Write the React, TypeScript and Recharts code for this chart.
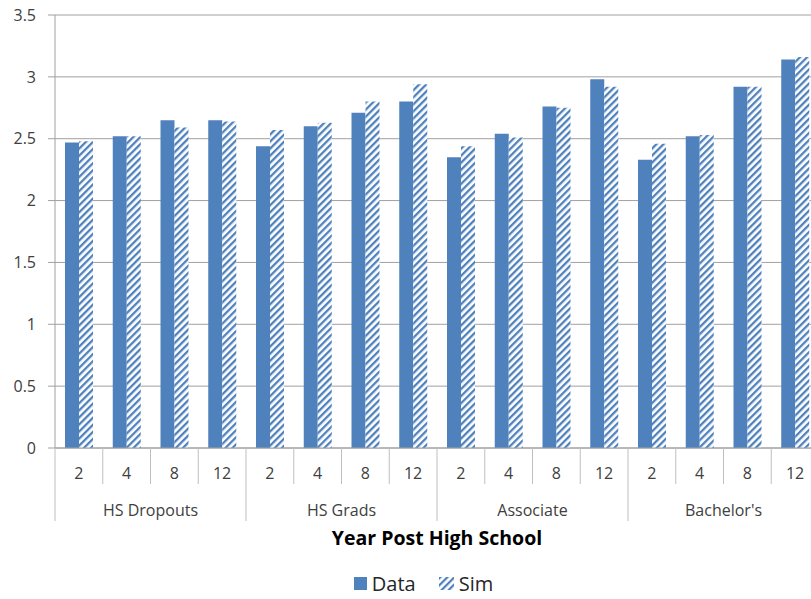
import React from "react";
import { BarChart, Bar, XAxis, YAxis, CartesianGrid, Legend } from "recharts";

const groups = ["HS Dropouts", "HS Grads", "Associate", "Bachelor's"];
const years = ["2", "4", "8", "12"];
const dataValues = [
  2.47, 2.52, 2.65, 2.65,
  2.44, 2.6, 2.71, 2.8,
  2.35, 2.54, 2.76, 2.98,
  2.33, 2.52, 2.92, 3.14,
];
const simValues = [
  2.48, 2.52, 2.59, 2.64,
  2.57, 2.63, 2.8, 2.94,
  2.44, 2.51, 2.75, 2.92,
  2.46, 2.53, 2.92, 3.16,
];
const yTicks = [0, 0.5, 1, 1.5, 2, 2.5, 3, 3.5];

const rows = groups.flatMap((g, gi) =>
  years.map((yr, yi) => ({
    key: g + "|" + yr,
    group: g,
    year: yr,
    Data: dataValues[gi * 4 + yi],
    Sim: simValues[gi * 4 + yi],
  }))
);

const BLUE = "#4F81BD";
const FONT = "'Open Sans', sans-serif";
const TEXT = "#404040";
const SEP = "#BFBFBF";

const YearTick = (props: any) => {
  const { x, y, payload, index } = props;
  const off = payload && payload.offset ? payload.offset : 23.9;
  const row = rows[index] || rows[0];
  const left = x - off;
  const isGroupStart = index % 4 === 0;
  const isLast = index === rows.length - 1;
  return (
    <g>
      <line x1={left} x2={left} y1={y} y2={y + (isGroupStart ? 73 : 36)} stroke={SEP} strokeWidth={1} />
      {isLast && (
        <line x1={x + off} x2={x + off} y1={y} y2={y + 73} stroke={SEP} strokeWidth={1} />
      )}
      <text x={x} y={y + 31} textAnchor="middle" fill={TEXT} fontSize={16} fontFamily={FONT}>
        {row.year}
      </text>
    </g>
  );
};

const GroupTick = (props: any) => {
  const { x, y, payload, index } = props;
  if (index % 4 !== 1) return <g />;
  const off = payload && payload.offset ? payload.offset : 23.9;
  const row = rows[index] || rows[0];
  return (
    <text x={x + off} y={y + 30.5} textAnchor="middle" fill={TEXT} fontSize={16} fontFamily={FONT}>
      {row.group}
    </text>
  );
};

const LegendContent = () => (
  <div
    style={{
      display: "flex",
      justifyContent: "center",
      alignItems: "center",
      height: 27,
      paddingLeft: 28,
      fontFamily: FONT,
      fontSize: 20,
      lineHeight: "27px",
      color: "#262626",
    }}
  >
    <svg width={13} height={13} style={{ marginRight: 5 }}>
      <rect x={0} y={0} width={13} height={13} fill={BLUE} />
    </svg>
    <span style={{ marginRight: 23 }}>Data</span>
    <svg width={15} height={13} style={{ marginRight: 5 }}>
      <defs>
        <pattern id="hatchLegend" patternUnits="userSpaceOnUse" width={5} height={5} patternTransform="rotate(45)">
          <rect x={0} y={0} width={5} height={5} fill="#ffffff" />
          <rect x={0} y={0} width={2.2} height={5} fill={BLUE} />
        </pattern>
      </defs>
      <rect x={0} y={0} width={15} height={13} fill="url(#hatchLegend)" />
    </svg>
    <span>Sim</span>
  </div>
);

export default function App() {
  return (
    <div style={{ position: "absolute", left: 0, top: 0, width: 811, height: 599, overflow: "hidden", background: "#fff" }}>
      <BarChart
        width={830}
        height={599}
        data={rows}
        margin={{ top: 15, right: 11, bottom: 0, left: 0 }}
        barCategoryGap={10}
        barGap={0}
      >
        <defs>
          <pattern id="hatch" patternUnits="userSpaceOnUse" width={5} height={5} patternTransform="rotate(45)">
            <rect x={0} y={0} width={5} height={5} fill="#ffffff" />
            <rect x={0} y={0} width={2.3} height={5} fill={BLUE} />
          </pattern>
        </defs>
        <CartesianGrid vertical={false} stroke="#A0A0A0" />
        <XAxis
          dataKey="key"
          interval={0}
          height={37}
          tickLine={false}
          tickSize={0}
          tickMargin={0}
          axisLine={{ stroke: "#A0A0A0" }}
          tick={<YearTick />}
        />
        <XAxis
          dataKey="key"
          xAxisId="grp"
          interval={0}
          height={72}
          tickLine={false}
          tickSize={0}
          tickMargin={0}
          axisLine={false}
          tick={<GroupTick />}
          label={{
            value: "Year Post High School",
            position: "insideBottom",
            offset: 12,
            style: { fontFamily: FONT, fontSize: 19.5, fontWeight: 700, fill: "#000" },
          }}
        />
        <YAxis
          width={55}
          domain={[0, 3.5]}
          ticks={yTicks}
          interval={0}
          tickSize={7}
          tickMargin={12}
          tickLine={{ stroke: "#A0A0A0" }}
          axisLine={{ stroke: "#A0A0A0" }}
          tick={{ fill: TEXT, fontSize: 16, fontFamily: FONT }}
        />
        <Legend
          verticalAlign="bottom"
          height={42}
          wrapperStyle={{ position: "absolute", top: 570, left: 0, bottom: "auto", width: 819, height: 42 }}
          content={<LegendContent />}
        />
        <Bar dataKey="Data" fill={BLUE} isAnimationActive={false} />
        <Bar dataKey="Sim" fill="url(#hatch)" isAnimationActive={false} />
      </BarChart>
    </div>
  );
}
